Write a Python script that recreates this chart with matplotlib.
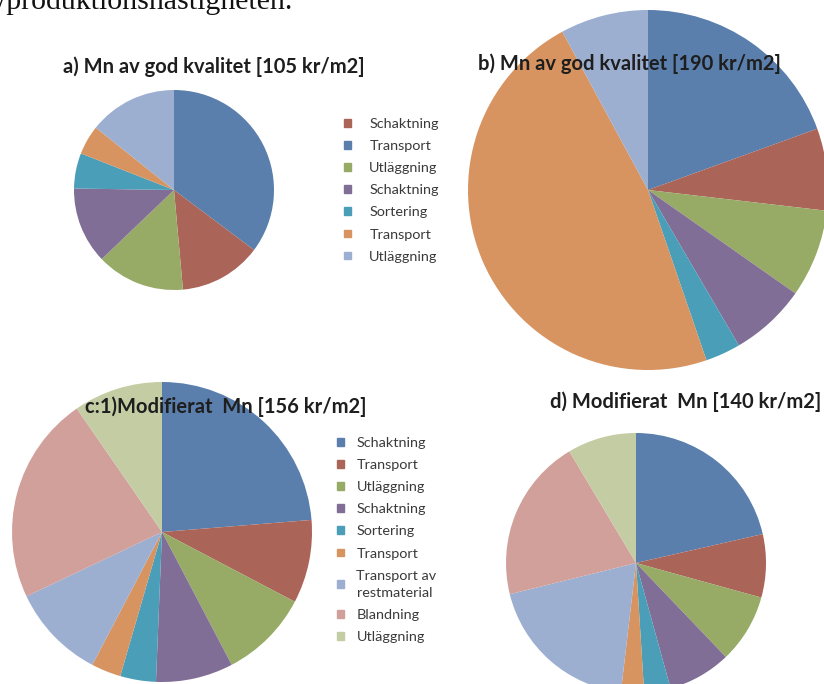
import matplotlib
matplotlib.use("Agg")
import matplotlib.pyplot as plt
from matplotlib.patches import Patch

W, H = 824, 684
DPI = 100

# Kostnadsposter (kr/m2) per alternativ, medurs från kl. 12
values_a = [37, 14, 15, 13, 6, 5, 15]          # totalt 105
values_b = [37, 14, 15, 13, 6, 90, 15]         # totalt 190
values_c = [37, 14, 15, 13, 6, 5, 16, 35, 15]  # totalt 156
values_d = [30, 11, 12, 11, 4.6, 4, 27, 28.4, 12]  # totalt 140

labels_ab = ["Schaktning", "Transport", "Utläggning", "Schaktning",
             "Sortering", "Transport", "Utläggning"]
labels_cd = ["Schaktning", "Transport", "Utläggning", "Schaktning",
             "Sortering", "Transport", "Transport av\nrestmaterial",
             "Blandning", "Utläggning"]

titles = ["a) Mn av god kvalitet [105 kr/m2]",
          "b) Mn av god kvalitet [190 kr/m2]",
          "c:1)Modifierat  Mn [156 kr/m2]",
          "d) Modifierat  Mn [140 kr/m2]"]

palette = ["#5a7fad", "#ab6458", "#97aa66", "#806e96", "#4a9eb8",
           "#d79460", "#9cafd0", "#d2a09b", "#c3cca2"]
# legend a/b lists the first two colours in swapped order
legend_ab_colors = [palette[1], palette[0]] + palette[2:7]
legend_cd_colors = palette[:9]

fig = plt.figure(figsize=(W / DPI, H / DPI), dpi=DPI)
fig.patch.set_facecolor("white")


def pie_axes(cx, cy, r):
    """Axes in pixel units (origin top-left) holding a unit-radius pie."""
    ax = fig.add_axes([(cx - r) / W, (H - cy - r) / H, 2 * r / W, 2 * r / H])
    ax.set_aspect("equal")
    ax.axis("off")
    return ax


def draw_pie(ax, vals):
    ax.pie(vals, colors=palette[:len(vals)], startangle=90, counterclock=False,
           radius=1, wedgeprops=dict(linewidth=0, antialiased=True))
    ax.set_xlim(-1, 1)
    ax.set_ylim(-1, 1)


draw_pie(pie_axes(174, 190, 100), values_a)
draw_pie(pie_axes(648, 190, 180), values_b)
draw_pie(pie_axes(162, 532, 150), values_c)
draw_pie(pie_axes(636, 563, 130), values_d)

# running text from the page above the figure
fig.text(-2 / W, 1 - 9 / H, "/produktionshastigheten.", fontsize=21.5,
         family="Liberation Serif", color="#111111", va="baseline", ha="left")

title_pos = [(214, 67), (629, 64), (226, 407), (686, 402)]
for (x, y), t in zip(title_pos, titles):
    fig.text(x / W, 1 - y / H, t, fontsize=14.5, fontweight="bold",
             family="Lato", color="#1e1e1e", ha="center", va="center")

leg_a = fig.legend(handles=[Patch(color=c) for c in legend_ab_colors],
                   labels=labels_ab, loc="upper left",
                   bbox_to_anchor=(344 / W, 1 - 118 / H), frameon=False,
                   handlelength=0.45, handleheight=0.45, handletextpad=1.3,
                   labelspacing=0.70, borderpad=0, borderaxespad=0,
                   prop=dict(family="Lato", size=10.4), labelcolor="#3a3a3a")

leg_c = fig.legend(handles=[Patch(color=c) for c in legend_cd_colors],
                   labels=labels_cd, loc="upper left",
                   bbox_to_anchor=(337 / W, 1 - 437 / H), frameon=False,
                   handlelength=0.45, handleheight=0.45, handletextpad=0.9,
                   labelspacing=0.70, borderpad=0, borderaxespad=0,
                   prop=dict(family="Lato", size=10.4), labelcolor="#3a3a3a")
for txt in leg_c.get_texts():
    txt.set_linespacing(1.5)

fig.savefig("out.png", dpi=DPI, facecolor="white")
